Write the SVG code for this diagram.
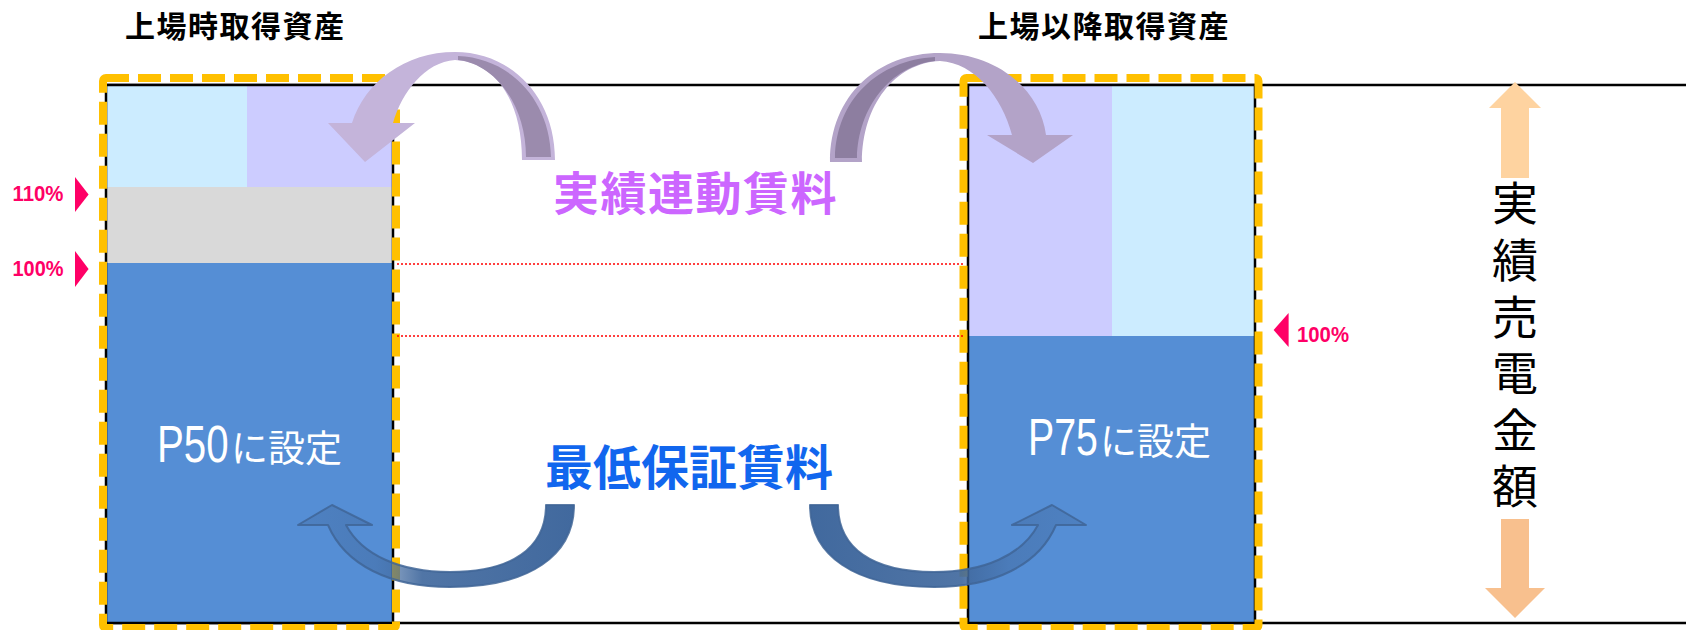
<svg xmlns="http://www.w3.org/2000/svg" width="1686" height="630" viewBox="0 0 1686 630">
<defs>
<style>
.jp{font-family:"Noto Sans CJK JP","Noto Sans",sans-serif}
.title{font-size:30px;font-weight:bold;fill:#000;letter-spacing:1.5px}
.lat{font-family:"Liberation Sans","Noto Sans",sans-serif}
.pct{font-size:22px;fill:#FF0066;font-weight:bold}
.mark{fill:#FF0066}
.frame{stroke:#000;stroke-width:2.5;fill:none}
.orange{fill:none;stroke:#FFC000;stroke-width:8;stroke-dasharray:23 9;stroke-linejoin:round}
.wt{fill:#fff}
.dot{stroke:#FF0000;stroke-width:1.5;stroke-dasharray:2 2;fill:none}
.ltblue{fill:#CCECFF}
.lav{fill:#CCCCFF}
.grey{fill:#D9D9D9}
.blue{fill:#558ED5}
.barrow{fill:url(#blueFade);stroke:#3F6597;stroke-width:2;stroke-opacity:0.85;stroke-linejoin:round}
</style>
<linearGradient id="blueFade" x1="1" y1="0" x2="0" y2="0">
<stop offset="0" stop-color="#41699E" stop-opacity="1"/>
<stop offset="0.55" stop-color="#41699E" stop-opacity="0.92"/>
<stop offset="0.72" stop-color="#41699E" stop-opacity="0.5"/>
<stop offset="1" stop-color="#41699E" stop-opacity="0.35"/>
</linearGradient>
<path id="blueArrow" class="barrow" d="M 546 505 L 574 505 C 574 555, 530 587, 450 587 C 390 587, 345 565, 328 525 L 298 525 L 332 505 L 372 525 L 346 525 C 362 555, 400 572, 450 572 C 512 572, 546 548, 546 505 Z"/>
</defs>
<rect width="1686" height="630" fill="#fff"/>

<g id="title-left"><text class="jp title" x="125" y="37">上場時取得資産</text></g>
<g id="title-right"><text class="jp title" x="978" y="37">上場以降取得資産</text></g>

<g id="frame">
<line class="frame" x1="106" y1="85" x2="1686" y2="85"/>
<line class="frame" x1="106" y1="623" x2="1686" y2="623"/>
</g>

<g id="box-left">
<rect class="ltblue" x="106" y="85" width="141" height="102"/>
<rect class="lav" x="247" y="85" width="146" height="102"/>
<rect class="grey" x="106" y="187" width="287" height="76"/>
<rect class="blue" x="106" y="263" width="287" height="360"/>
<rect class="frame" x="106" y="85" width="287" height="538"/>
<text class="lat wt" transform="translate(157 462) scale(0.79 1)" font-size="51">P50</text>
<text class="jp wt" x="231" y="462" font-size="37">に設定</text>
<rect class="orange" x="103" y="78" width="293" height="550" rx="3"/>
</g>

<g id="box-right">
<rect class="lav" x="968" y="85" width="144" height="251"/>
<rect class="ltblue" x="1112" y="85" width="143" height="251"/>
<rect class="blue" x="968" y="336" width="287" height="287"/>
<rect class="frame" x="968" y="85" width="287" height="538"/>
<text class="lat wt" transform="translate(1028 455) scale(0.77 1)" font-size="51">P75</text>
<text class="jp wt" x="1100" y="455" font-size="37">に設定</text>
<rect class="orange" x="963.5" y="78" width="295" height="550" rx="3"/>
</g>

<g id="markers">
<text class="lat pct" x="12.5" y="201" textLength="51" lengthAdjust="spacingAndGlyphs">110%</text>
<polygon class="mark" points="75,177 88.6,194.5 75,212"/>
<text class="lat pct" x="12.5" y="276" textLength="51" lengthAdjust="spacingAndGlyphs">100%</text>
<polygon class="mark" points="75,251 88.6,269 75,287"/>
<text class="lat pct" x="1297" y="341.5" textLength="52" lengthAdjust="spacingAndGlyphs">100%</text>
<polygon class="mark" points="1288.6,313 1273.6,330 1288.6,347"/>
</g>

<g id="label-jisseki"><text class="jp" x="553" y="210" font-size="46" font-weight="bold" letter-spacing="1.5" fill="#CC66FF">実績連動賃料</text></g>
<g id="label-saitei"><text class="jp" x="545" y="485" font-size="48" font-weight="bold" fill="#1166EE">最低保証賃料</text></g>

<g id="axis-label">
<polygon fill="#FED3A0" points="1515,82 1541,108 1529,108 1529,178 1501,178 1501,108 1489,108"/>
<text class="jp" x="1515" y="180" font-size="46" fill="#000" writing-mode="vertical-rl" letter-spacing="10.6">実績売電金額</text>
<polygon fill="#F8C08E" points="1501,519 1529,519 1529,588 1545,588 1515,618 1485,588 1501,588"/>
</g>

<g id="connectors">
<line class="dot" x1="397" y1="264" x2="964" y2="264"/>
<line class="dot" x1="397" y1="336" x2="964" y2="336"/>
<use href="#blueArrow"/>
<use href="#blueArrow" transform="translate(1384 0) scale(-1 1)"/>
<path fill="#C4B4DA" d="M 555 160 C 555 95, 510 52, 455 52 C 405 52, 365 82, 352 123 L 328 123 L 365 162 L 415 123 L 393 123 C 402 92, 425 62, 455 60 C 495 62, 522 100, 522 160 Z"/>
<path fill="#9B8BAD" d="M 458 56 C 510 58, 550 100, 551 157 L 526 157 C 526 105, 495 64, 458 60 Z"/>
<path fill="#B3A3C8" d="M 830 162 C 830 95, 878 53, 940 53 C 995 53, 1040 88, 1046 135 L 1073 135 L 1033 163 L 987 135 L 1012 135 C 1002 97, 975 63, 940 61 C 895 63, 862 105, 862 162 Z"/>
<path fill="#8D7EA0" d="M 935 57 C 878 60, 836 100, 835 158 L 857 158 C 858 108, 890 66, 935 61 Z"/>
</g>
</svg>
